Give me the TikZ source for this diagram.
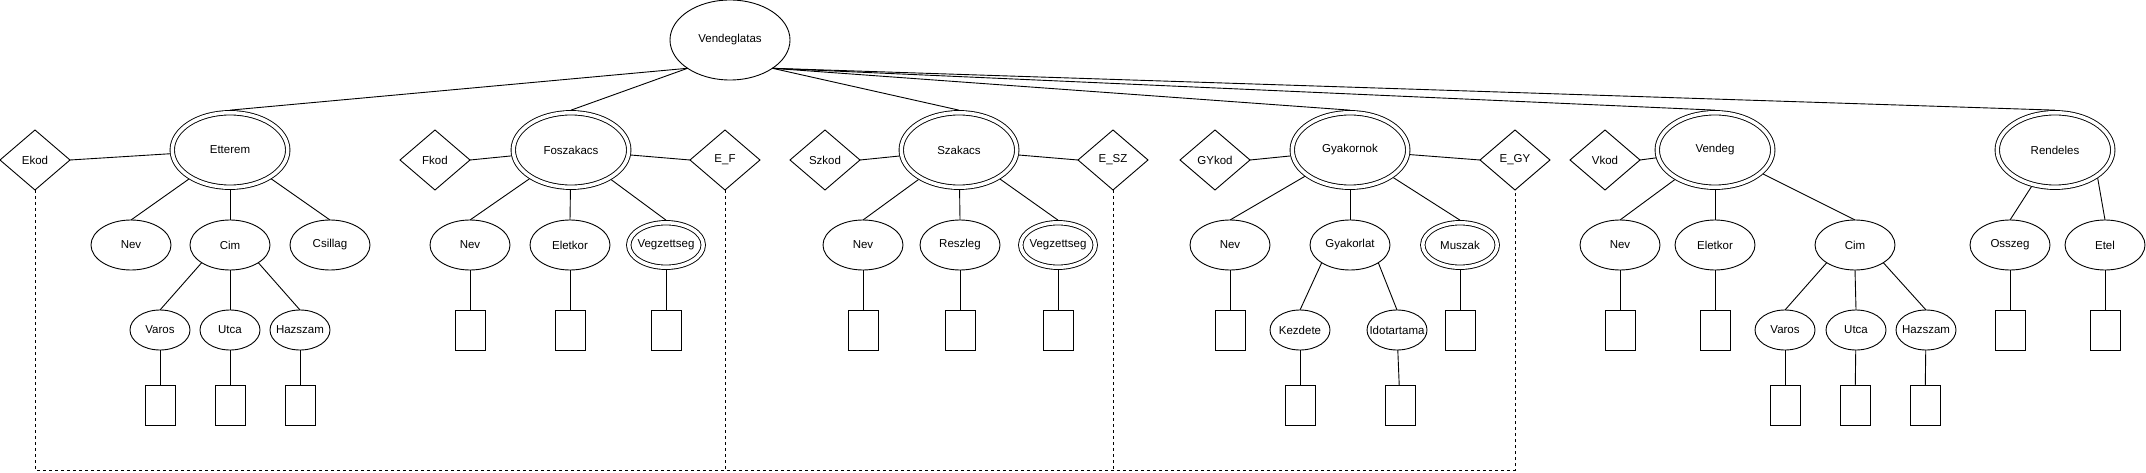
\documentclass[tikz,border=0pt]{standalone}
\usepackage{fontspec}
\setmainfont{Liberation Sans}
\usepackage{tikz}
\usetikzlibrary{shapes.geometric}
\newcommand{\lb}[1]{\makebox[0pt]{#1}}

\begin{document}
\begin{tikzpicture}[-,x=1pt,y=-1pt,line width=0.9pt,
    every node/.style={inner sep=0pt,outer sep=0pt,font=\fontsize{11.5}{13}\selectfont},
    vend/.style={ellipse,draw,minimum width=120pt,minimum height=80pt},
    ent/.style={ellipse,draw,double,double distance=3.5pt,minimum width=115.5pt,minimum height=74.5pt,outer sep=2.6pt},
    attr/.style={ellipse,draw,minimum width=80pt,minimum height=50pt},
    mattr/.style={ellipse,draw,double,double distance=3.5pt,minimum width=74.5pt,minimum height=44.5pt,outer sep=2.6pt},
    sattr/.style={ellipse,draw,minimum width=60pt,minimum height=40pt},
    kod/.style={diamond,draw,minimum width=70pt,minimum height=60pt},
    val/.style={rectangle,draw,minimum width=30pt,minimum height=40pt}]
      \useasboundingbox (0,0) rectangle (2146,473);

      \node[vend] (vend) at (730,40) {\lb{Vendeglatas}};

      \node[ent] (etterem) at (230,150) {\lb{Etterem}};
      \node[ent] (foszakacs) at (571,150) {\lb{Foszakacs}};
      \node[ent] (szakacs) at (959,150) {\lb{Szakacs}};
      \node[ent] (gyakornok) at (1350,150) {\lb{Gyakornok}};
      \node[ent] (vendeg) at (1715,150) {\lb{Vendeg}};
      \node[ent] (rendeles) at (2055,150) {\lb{Rendeles}};

      \node[kod] (ekod) at (35,160) {\lb{Ekod}};
      \node[kod] (fkod) at (435,160) {\lb{Fkod}};
      \node[kod] (ef) at (725,160) {\lb{E\_F}};
      \node[kod] (szkod) at (825,160) {\lb{Szkod}};
      \node[kod] (esz) at (1113,160) {\lb{E\_SZ}};
      \node[kod] (gykod) at (1215,160) {\lb{GYkod}};
      \node[kod] (egy) at (1515,160) {\lb{E\_GY}};
      \node[kod] (vkod) at (1605,160) {\lb{Vkod}};

      \node[attr] (eNev) at (131,245) {\lb{Nev}};
      \node[attr] (eCim) at (230,245) {\lb{Cim}};
      \node[attr] (eCsillag) at (330,245) {\lb{Csillag}};
      \node[sattr] (eVaros) at (160,330) {\lb{Varos}};
      \node[sattr] (eUtca) at (230,330) {\lb{Utca}};
      \node[sattr] (eHazszam) at (300,330) {\lb{Hazszam}};
      \node[val] (eVarosV) at (160,405) {};
      \node[val] (eUtcaV) at (230,405) {};
      \node[val] (eHazszamV) at (300,405) {};

      \node[attr] (fNev) at (470,245) {\lb{Nev}};
      \node[attr] (fEletkor) at (570,245) {\lb{Eletkor}};
      \node[mattr] (fVegz) at (666,245) {\lb{Vegzettseg}};
      \node[val] (fNevV) at (470,330) {};
      \node[val] (fEletkorV) at (570,330) {};
      \node[val] (fVegzV) at (666,330) {};

      \node[attr] (sNev) at (863,245) {\lb{Nev}};
      \node[attr] (sReszleg) at (960,245) {\lb{Reszleg}};
      \node[mattr] (sVegz) at (1058,245) {\lb{Vegzettseg}};
      \node[val] (sNevV) at (863,330) {};
      \node[val] (sReszlegV) at (960,330) {};
      \node[val] (sVegzV) at (1058,330) {};

      \node[attr] (gNev) at (1230,245) {\lb{Nev}};
      \node[attr] (gGyak) at (1350,245) {\lb{Gyakorlat}};
      \node[mattr] (gMuszak) at (1460,245) {\lb{Muszak}};
      \node[sattr] (gKezd) at (1300,330) {\lb{Kezdete}};
      \node[sattr] (gIdo) at (1397,330) {\lb{Idotartama}};
      \node[val] (gNevV) at (1230,330) {};
      \node[val] (gMuszakV) at (1460,330) {};
      \node[val] (gKezdV) at (1300,405) {};
      \node[val] (gIdoV) at (1400,405) {};

      \node[attr] (vNev) at (1620,245) {\lb{Nev}};
      \node[attr] (vEletkor) at (1715,245) {\lb{Eletkor}};
      \node[attr] (vCim) at (1855,245) {\lb{Cim}};
      \node[sattr] (vVaros) at (1785,330) {\lb{Varos}};
      \node[sattr] (vUtca) at (1856,330) {\lb{Utca}};
      \node[sattr] (vHazszam) at (1926,330) {\lb{Hazszam}};
      \node[val] (vNevV) at (1620,330) {};
      \node[val] (vEletkorV) at (1715,330) {};
      \node[val] (vVarosV) at (1785,405) {};
      \node[val] (vUtcaV) at (1855,405) {};
      \node[val] (vHazszamV) at (1925,405) {};

      \node[attr] (rOsszeg) at (2010,245) {\lb{Osszeg}};
      \node[attr] (rEtel) at (2105,245) {\lb{Etel}};
      \node[val] (rOsszegV) at (2010,330) {};
      \node[val] (rEtelV) at (2105,330) {};

      \coordinate (base) at (0,470);

      \path[draw]
      (vend.south west) edge (etterem.north)
      edge (foszakacs.north)
      (vend.south east) edge (szakacs.north)
      edge (gyakornok.north)
      edge (vendeg.north)
      edge (rendeles.north)

      (etterem) edge (ekod.east)
      edge (eNev.north)
      edge (eCim.north)
      edge (eCsillag.north)
      (eCim.south west) edge (eVaros.north)
      (eCim.south) edge (eUtca.north)
      (eCim.south east) edge (eHazszam.north)
      (eVaros) edge (eVarosV)
      (eUtca) edge (eUtcaV)
      (eHazszam) edge (eHazszamV)

      (foszakacs) edge (fkod.east)
      edge (ef.west)
      edge (fNev.north)
      edge (fEletkor.north)
      edge (fVegz.north)
      (fNev) edge (fNevV)
      (fEletkor) edge (fEletkorV)
      (fVegz) edge (fVegzV)

      (szakacs) edge (szkod.east)
      edge (esz.west)
      edge (sNev.north)
      edge (sReszleg.north)
      edge (sVegz.north)
      (sNev) edge (sNevV)
      (sReszleg) edge (sReszlegV)
      (sVegz) edge (sVegzV)

      (gyakornok) edge (gykod.east)
      edge (egy.west)
      edge (gNev.north)
      edge (gGyak.north)
      edge (gMuszak.north)
      (gGyak.south west) edge (gKezd.north)
      (gGyak.south east) edge (gIdo.north)
      (gNev) edge (gNevV)
      (gMuszak) edge (gMuszakV)
      (gKezd) edge (gKezdV)
      (gIdo) edge (gIdoV)

      (vendeg) edge (vkod.east)
      edge (vNev.north)
      edge (vEletkor.north)
      edge (vCim.north)
      (vCim.south west) edge (vVaros.north)
      (vCim.south) edge (vUtca.north)
      (vCim.south east) edge (vHazszam.north)
      (vNev) edge (vNevV)
      (vEletkor) edge (vEletkorV)
      (vVaros) edge (vVarosV)
      (vUtca) edge (vUtcaV)
      (vHazszam) edge (vHazszamV)

      (rendeles) edge (rOsszeg.north)
      (rendeles.south east) edge (rEtel.north)
      (rOsszeg) edge (rOsszegV)
      (rEtel) edge (rEtelV);

      \draw[dashed,line width=0.8pt] (ekod.south) -- (ekod.south |- base) -| (egy.south);
      \draw[dashed,line width=0.8pt] (ef.south) -- (ef.south |- base);
      \draw[dashed,line width=0.8pt] (esz.south) -- (esz.south |- base);

  \end{tikzpicture}
\end{document}
